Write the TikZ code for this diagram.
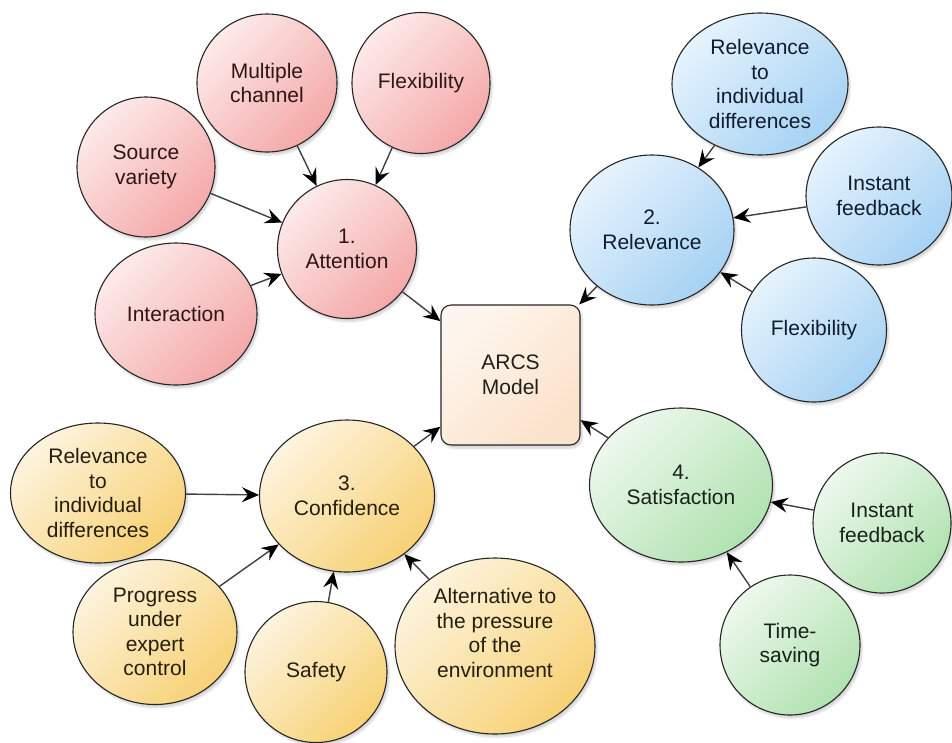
\documentclass[tikz,border=0pt]{standalone}
\usepackage{fontspec}
\setmainfont{Liberation Sans}
\usetikzlibrary{shapes.geometric,arrows.meta,shadows.blur}
\definecolor{pinkA}{HTML}{FDEAEA}
\definecolor{pinkB}{HTML}{F4A8A8}
\definecolor{blueA}{HTML}{E6F3FD}
\definecolor{blueB}{HTML}{A6D2F3}
\definecolor{greenA}{HTML}{EDF8ED}
\definecolor{greenB}{HTML}{B0E2B0}
\definecolor{yelA}{HTML}{FDF4DE}
\definecolor{yelB}{HTML}{F7D175}
\definecolor{boxA}{HTML}{FEF6EE}
\definecolor{boxB}{HTML}{FBE2CA}
\definecolor{pinkT}{HTML}{2E1616}
\definecolor{blueT}{HTML}{121C30}
\definecolor{greenT}{HTML}{18221A}
\definecolor{yelT}{HTML}{261E0E}
\definecolor{boxT}{HTML}{221E1E}
\tikzset{
  shad/.style={blur shadow={shadow xshift=2pt, shadow yshift=-3pt, shadow blur steps=6, shadow opacity=18}},
  bub/.style={ellipse, draw=black!85, line width=1.1pt, inner sep=0pt, shad},
  pinkb/.style={bub, top color=pinkA, bottom color=pinkB, shading angle=45},
  blueb/.style={bub, top color=blueA, bottom color=blueB, shading angle=45},
  greenb/.style={bub, top color=greenA, bottom color=greenB, shading angle=45},
  yelb/.style={bub, top color=yelA, bottom color=yelB, shading angle=45},
  boxb/.style={rectangle, rounded corners=10pt, draw=black!85, line width=1.1pt, inner sep=0pt,
    top color=boxA, bottom color=boxB, shading angle=45, shad},
  lbl/.style={align=center, font=\fontsize{21}{24.5}\selectfont, inner sep=0pt},
  arr/.style={draw=black!75, line width=1.4pt, -{Stealth[length=17pt,width=15pt,inset=6pt,color=black,fill=black]}},
  sz/.style 2 args={minimum width=#1pt, minimum height=#2pt}
}
\begin{document}
\begin{tikzpicture}[x=1pt,y=-1pt]
\useasboundingbox (0,0) rectangle (952,742);
% attention group
\node[pinkb, sz={140}{138}] (mc) at (267,83) {};
\node[lbl, text=pinkT] (mcT) at (mc) {Multiple\\channel};
\node[pinkb, sz={138}{141}] (flexP) at (421,83) {};
\node[lbl, text=pinkT] (flexPT) at (flexP) {Flexibility};
\node[pinkb, sz={138}{140}] (sv) at (146,167) {};
\node[lbl, text=pinkT] (svT) at (sv) {Source\\variety};
\node[pinkb, sz={162}{142}] (inter) at (176,314) {};
\node[lbl, text=pinkT] (interT) at (inter) {Interaction};
\node[pinkb, sz={139}{139}] (att) at (347,249) {};
\node[lbl, text=pinkT] (attT) at (att) {1.\\Attention};
% centre box
\node[boxb, sz={139}{140}] (arcs) at (510.5,375) {};
\node[lbl, text=boxT] (arcsT) at (arcs) {ARCS\\Model};
% relevance group
\node[blueb, sz={176}{142}] (rid) at (760,84) {};
\node[lbl, text=blueT] (ridT) at (rid) {Relevance\\to\\individual\\differences};
\node[blueb, sz={146}{138}] (ifb) at (879,196) {};
\node[lbl, text=blueT] (ifbT) at (ifb) {Instant\\feedback};
\node[blueb, sz={164}{150}] (rel) at (652,230) {};
\node[lbl, text=blueT] (relT) at (rel) {2.\\Relevance};
\node[blueb, sz={145}{144}] (flexB) at (814,330) {};
\node[lbl, text=blueT] (flexBT) at (flexB) {Flexibility};
% satisfaction group
\node[greenb, sz={183}{154}] (sat) at (681,485) {};
\node[lbl, text=greenT] (satT) at (sat) {4.\\Satisfaction};
\node[greenb, sz={138}{140}] (ifg) at (882,523) {};
\node[lbl, text=greenT] (ifgT) at (ifg) {Instant\\feedback};
\node[greenb, sz={140}{140}] (ts) at (790,645) {};
\node[lbl, text=greenT] (tsT) at (ts) {Time-\\saving};
% confidence group
\node[yelb, sz={175}{140}] (ridY) at (98,493) {};
\node[lbl, text=yelT] (ridYT) at (ridY) {Relevance\\to\\individual\\differences};
\node[yelb, sz={175}{152}] (conf) at (347,496) {};
\node[lbl, text=yelT] (confT) at (conf) {3.\\Confidence};
\node[yelb, sz={164}{145}] (prog) at (155,632) {};
\node[lbl, text=yelT] (progT) at (prog) {Progress\\under\\expert\\control};
\node[yelb, sz={142}{141}] (safe) at (316,672) {};
\node[lbl, text=yelT] (safeT) at (safe) {Safety};
\node[yelb, sz={200}{176}] (alt) at (495,646) {};
\node[lbl, text=yelT] (altT) at ([yshift=13pt]alt.center) {Alternative to\\the pressure\\of the\\environment};
% connectors
\draw[arr] (mc) -- (att);
\draw[arr] (flexP) -- (att);
\draw[arr] (sv) -- (att);
\draw[arr] (inter) -- (att);
\draw[arr] (att) -- (arcs);
\draw[arr] (rid) -- (rel);
\draw[arr] (ifb) -- (rel);
\draw[arr] (flexB) -- (rel);
\draw[arr] (rel) -- (arcs);
\draw[arr] (ifg) -- (sat);
\draw[arr] (ts) -- (sat);
\draw[arr] (sat) -- (arcs);
\draw[arr] (ridY) -- (conf);
\draw[arr] (prog) -- (conf);
\draw[arr] (safe) -- (conf);
\draw[arr] (alt) -- (conf);
\draw[arr] (conf) -- (arcs);
\end{tikzpicture}
\end{document}
